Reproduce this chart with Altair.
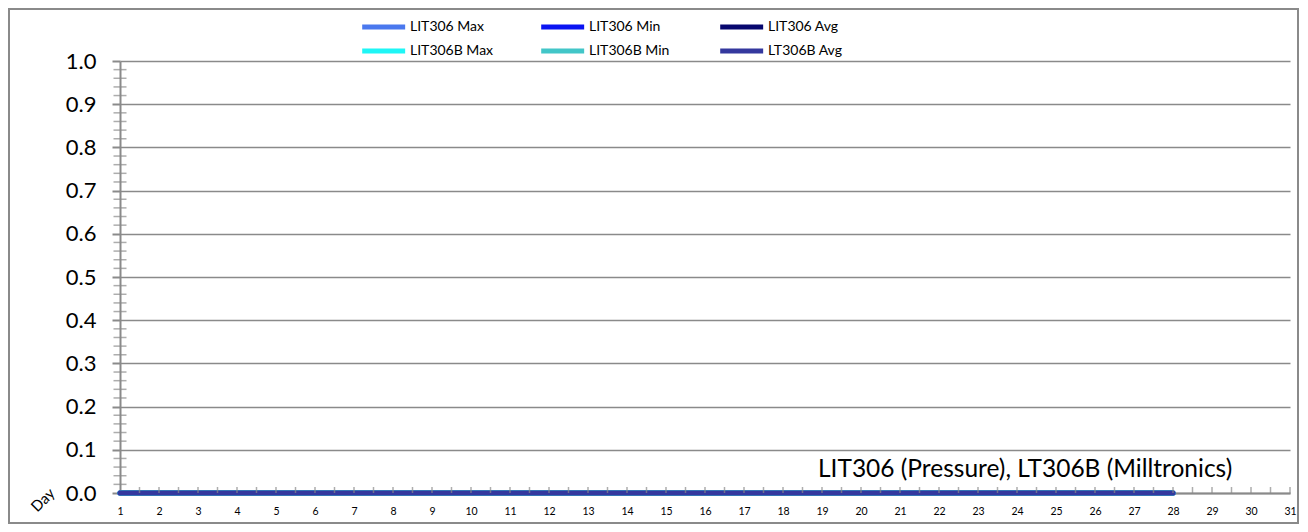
import altair as alt
import pandas as pd

# ---- data ----
days = [1, 2, 3, 4, 5, 6, 7, 8, 9, 10, 11, 12, 13, 14, 15, 16, 17, 18, 19, 20,
        21, 22, 23, 24, 25, 26, 27, 28]
axis_days = [1, 2, 3, 4, 5, 6, 7, 8, 9, 10, 11, 12, 13, 14, 15, 16, 17, 18, 19, 20,
             21, 22, 23, 24, 25, 26, 27, 28, 29, 30, 31]
series_names = ["LIT306 Max", "LIT306 Min", "LIT306 Avg",
                "LIT306B Max", "LIT306B Min", "LT306B Avg"]
lit306_max = [0.0, 0.0, 0.0, 0.0, 0.0, 0.0, 0.0, 0.0, 0.0, 0.0, 0.0, 0.0, 0.0, 0.0,
              0.0, 0.0, 0.0, 0.0, 0.0, 0.0, 0.0, 0.0, 0.0, 0.0, 0.0, 0.0, 0.0, 0.0]
lit306_min = [0.0, 0.0, 0.0, 0.0, 0.0, 0.0, 0.0, 0.0, 0.0, 0.0, 0.0, 0.0, 0.0, 0.0,
              0.0, 0.0, 0.0, 0.0, 0.0, 0.0, 0.0, 0.0, 0.0, 0.0, 0.0, 0.0, 0.0, 0.0]
lit306_avg = [0.0, 0.0, 0.0, 0.0, 0.0, 0.0, 0.0, 0.0, 0.0, 0.0, 0.0, 0.0, 0.0, 0.0,
              0.0, 0.0, 0.0, 0.0, 0.0, 0.0, 0.0, 0.0, 0.0, 0.0, 0.0, 0.0, 0.0, 0.0]
lit306b_max = [0.0, 0.0, 0.0, 0.0, 0.0, 0.0, 0.0, 0.0, 0.0, 0.0, 0.0, 0.0, 0.0, 0.0,
               0.0, 0.0, 0.0, 0.0, 0.0, 0.0, 0.0, 0.0, 0.0, 0.0, 0.0, 0.0, 0.0, 0.0]
lit306b_min = [0.0, 0.0, 0.0, 0.0, 0.0, 0.0, 0.0, 0.0, 0.0, 0.0, 0.0, 0.0, 0.0, 0.0,
               0.0, 0.0, 0.0, 0.0, 0.0, 0.0, 0.0, 0.0, 0.0, 0.0, 0.0, 0.0, 0.0, 0.0]
lt306b_avg = [0.0, 0.0, 0.0, 0.0, 0.0, 0.0, 0.0, 0.0, 0.0, 0.0, 0.0, 0.0, 0.0, 0.0,
              0.0, 0.0, 0.0, 0.0, 0.0, 0.0, 0.0, 0.0, 0.0, 0.0, 0.0, 0.0, 0.0, 0.0]
y_major = [0.0, 0.1, 0.2, 0.3, 0.4, 0.5, 0.6, 0.7, 0.8, 0.9, 1.0]
y_minor = [0.02, 0.04, 0.06, 0.08, 0.12, 0.14, 0.16, 0.18, 0.22, 0.24, 0.26, 0.28,
           0.32, 0.34, 0.36, 0.38, 0.42, 0.44, 0.46, 0.48, 0.52, 0.54, 0.56, 0.58,
           0.62, 0.64, 0.66, 0.68, 0.72, 0.74, 0.76, 0.78, 0.82, 0.84, 0.86, 0.88,
           0.92, 0.94, 0.96, 0.98]
x_minor = [d + 0.5 for d in axis_days[:-1]] + axis_days[1:]
title_text = "LIT306 (Pressure), LT306B (Milltronics)"
x_label_text = "Day"

colors = ["#4A78EE", "#0A14F2", "#07076E", "#1EF6F6", "#42C6C8", "#34389E"]
widths = [5, 5, 5, 2.5, 2.5, 2.5]

W, H = 1170, 432
FONT = "Lato"
GRAY = "#8A8A8A"

rows = []
for name, vals in zip(series_names, [lit306_max, lit306_min, lit306_avg,
                                     lit306b_max, lit306b_min, lt306b_avg]):
    for d, v in zip(days, vals):
        rows.append({"day": d, "value": v, "series": name})
df = pd.DataFrame(rows)

xscale = alt.Scale(domain=[1, 31], nice=False, zero=False)
yscale = alt.Scale(domain=[0, 1], nice=False)

legend_kw = dict(title=None, orient="none", legendX=268, legendY=-44, columns=3,
                 direction="horizontal", symbolType="M-5,0H1", symbolSize=205,
                 labelFontSize=14, labelFont=FONT, labelColor="#000000",
                 labelOffset=2, columnPadding=37, rowPadding=4,
                 gridAlign="all", padding=0)

x_axis = alt.Axis(values=axis_days, format="d", title=None, grid=False,
                  labelFontSize=10.5, labelFont=FONT, labelColor="#000000",
                  ticks=False, domainColor=GRAY, domainWidth=2, labelPadding=13,
                  labelFlush=False, labelOverlap=False, labelSeparation=0)

lines = alt.Chart(df).mark_line(strokeCap="round", clip=False).encode(
    x=alt.X("day:Q", scale=xscale, axis=x_axis),
    y=alt.Y("value:Q", scale=yscale,
            axis=alt.Axis(values=y_major, format=".1f", title=None, grid=True,
                          gridColor=GRAY, gridWidth=1.5,
                          labelFontSize=22, labelFont=FONT, labelColor="#000000",
                          tickSize=8, tickColor=GRAY, tickWidth=2,
                          domainColor=GRAY, domainWidth=2, labelPadding=16,
                          labelFlush=False, labelOverlap=False)),
    color=alt.Color("series:N", scale=alt.Scale(domain=series_names, range=colors),
                    legend=alt.Legend(**legend_kw)),
    strokeWidth=alt.StrokeWidth("series:N",
                                scale=alt.Scale(domain=series_names, range=widths),
                                legend=alt.Legend(**legend_kw)),
)

yminor_ticks = alt.Chart(pd.DataFrame({"value": y_minor})).mark_tick(
    color=GRAY, thickness=1.5, size=13, orient="horizontal"
).encode(y=alt.Y("value:Q", scale=yscale), x=alt.value(0))

xminor_ticks = alt.Chart(pd.DataFrame({"day": x_minor})).mark_tick(
    color=GRAY, thickness=1.5, size=6, orient="vertical"
).encode(x=alt.X("day:Q", scale=xscale, axis=x_axis), y=alt.value(H - 3))

day_text = alt.Chart(pd.DataFrame({"t": [x_label_text]})).mark_text(
    font=FONT, fontSize=15, angle=315, color="#000000", align="center", baseline="middle"
).encode(text="t:N", x=alt.value(-77), y=alt.value(H + 7))

title_mark = alt.Chart(pd.DataFrame({"t": [title_text]})).mark_text(
    font=FONT, fontSize=24.5, color="#000000", align="left", baseline="middle"
).encode(text="t:N", x=alt.value(698), y=alt.value(H - 23))

border = alt.Chart(pd.DataFrame({"a": [0]})).mark_rect(
    fill=None, stroke=GRAY, strokeWidth=2
).encode(x=alt.value(-111), x2=alt.value(W + 8), y=alt.value(-52), y2=alt.value(H + 30))

chart = alt.layer(lines, yminor_ticks, xminor_ticks, day_text, title_mark, border).properties(
    width=W, height=H,
    background="#ffffff",
    autosize=alt.AutoSizeParams(type="none"),
    padding={"left": 112, "top": 53, "right": 10, "bottom": 31},
).configure_view(stroke=None).configure_axisX(labelOverlap=False)

chart.save("out.html", embed_options={"renderer": "svg", "actions": False})
